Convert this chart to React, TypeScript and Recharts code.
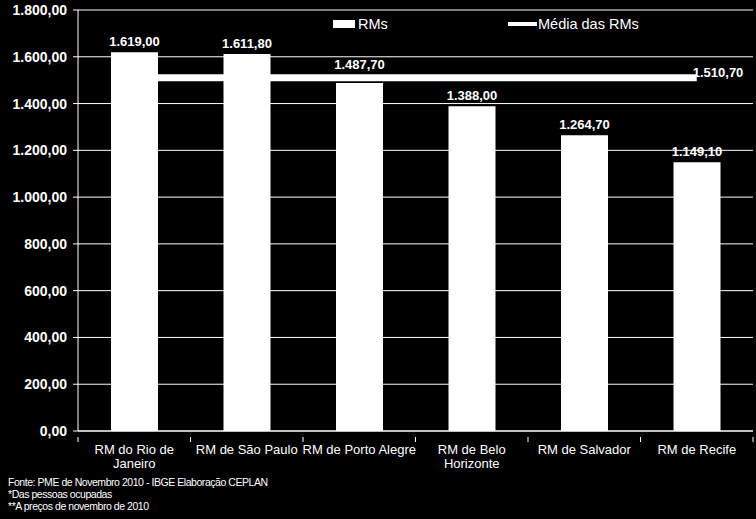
import { ComposedChart, Bar, Line, XAxis, YAxis, CartesianGrid, LabelList } from "recharts"

const regions = [
  "RM do Rio de Janeiro",
  "RM de São Paulo",
  "RM de Porto Alegre",
  "RM de Belo Horizonte",
  "RM de Salvador",
  "RM de Recife",
]
const rendimento = [1619.0, 1611.8, 1487.7, 1388.0, 1264.7, 1149.1]
const mediaRMs = [1510.7, 1510.7, 1510.7, 1510.7, 1510.7, 1510.7]
const yTicks = [0, 200, 400, 600, 800, 1000, 1200, 1400, 1600, 1800]
const notes = [
  "Fonte: PME de Novembro 2010 - IBGE Elaboração CEPLAN",
  "*Das pessoas ocupadas",
  "**A preços de novembro de 2010",
]

const data = regions.map((name, i) => ({ name, rm: rendimento[i], media: mediaRMs[i] }))

// brazilian number format: 1.234,56
function fmt(v: number) {
  const [int, dec] = v.toFixed(2).split(".")
  return int.replace(/\B(?=(\d{3})+(?!\d))/g, ".") + "," + dec
}

const FONT = "'Liberation Sans', Arial, sans-serif"
const HALF_BAND = 675 / 6 / 2

function CategoryTick(props: any) {
  const { x, y, payload, index } = props
  const text: string = payload.value
  let lines = [text]
  if (text.length > 18) {
    const cut = text.lastIndexOf(" ")
    lines = [text.slice(0, cut), text.slice(cut + 1)]
  }
  return (
    <g>
      <line x1={x + HALF_BAND} x2={x + HALF_BAND} y1={y} y2={y + 5} stroke="#fff" />
      {index === 0 && <line x1={x - HALF_BAND} x2={x - HALF_BAND} y1={y} y2={y + 5} stroke="#fff" />}
      <text x={x} y={y + 17} textAnchor="middle" fill="#fff" fontSize={13} fontFamily={FONT}>
        {lines.map((l, i) => (
          <tspan key={i} x={x} dy={i === 0 ? 0 : 14}>{l}</tspan>
        ))}
      </text>
    </g>
  )
}

function BarValue(props: any) {
  const { x, y, width, value, index } = props
  // porto alegre label sits a bit higher, clear of the mean line
  const lift = index === 2 ? 8 : 0
  return (
    <text x={x + width / 2} y={y - 6 - lift} textAnchor="middle" fill="#fff" fontSize={13} fontWeight="bold" fontFamily={FONT}>
      {fmt(value)}
    </text>
  )
}

function MeanValue(props: any) {
  const { x, y, value, index } = props
  if (index !== regions.length - 1) return null
  return (
    <text x={x - 4} y={y - 1} fill="#fff" fontSize={13} fontWeight="bold" fontFamily={FONT}>
      {fmt(value)}
    </text>
  )
}

export default function App() {
  return (
    <div style={{ position: "absolute", left: 0, top: 0, width: 756, height: 519, background: "#000", fontFamily: FONT }}>
      <ComposedChart width={756} height={519} data={data} margin={{ top: 10, right: 3, left: 0, bottom: 0 }}>
        <CartesianGrid horizontal vertical={false} stroke="#fff" strokeWidth={1} />
        <XAxis
          dataKey="name"
          stroke="#fff"
          tickLine={false}
          tick={<CategoryTick />}
          interval={0}
          height={88}
          tickMargin={0}
        />
        <YAxis
          domain={[0, 1800]}
          ticks={yTicks}
          width={78}
          stroke="#fff"
          tickSize={5}
          tickMargin={6}
          tickFormatter={fmt}
          tick={{ fill: "#fff", fontSize: 14, fontFamily: FONT, fontWeight: "bold" }}
          interval={0}
        />
        <Line
          dataKey="media"
          stroke="#fff"
          strokeWidth={7}
          dot={false}
          activeDot={false}
          isAnimationActive={false}
        >
          <LabelList dataKey="media" content={<MeanValue />} />
        </Line>
        <Bar dataKey="rm" fill="#fff" barSize={47} isAnimationActive={false}>
          <LabelList dataKey="rm" content={<BarValue />} />
        </Bar>
      </ComposedChart>

      {/* legend */}
      <div style={{ position: "absolute", left: 333, top: 16, display: "flex", alignItems: "center", color: "#fff", fontSize: 14.5 }}>
        <div style={{ width: 22, height: 8, background: "#fff", marginRight: 3 }} />
        <span>RMs</span>
      </div>
      <div style={{ position: "absolute", left: 508, top: 16, display: "flex", alignItems: "center", color: "#fff", fontSize: 14.5 }}>
        <div style={{ width: 29, height: 4, background: "#fff", marginRight: 1 }} />
        <span>Média das RMs</span>
      </div>

      {/* footnotes */}
      <div style={{ position: "absolute", left: 8, top: 476, color: "#fff", fontSize: 10.5, lineHeight: "12px", letterSpacing: -0.45 }}>
        {notes.map((n, i) => (
          <div key={i}>{n}</div>
        ))}
      </div>
    </div>
  )
}
